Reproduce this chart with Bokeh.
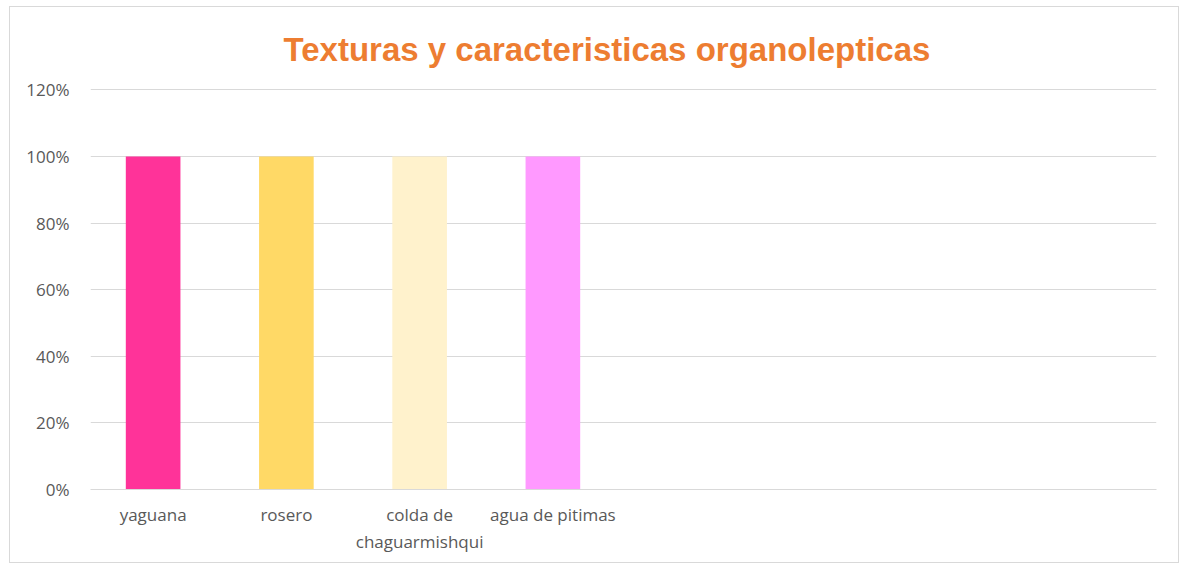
from bokeh.plotting import figure
from bokeh.models import FixedTicker, NumeralTickFormatter, Range1d, Title, ColumnDataSource
from bokeh.embed import file_html
from bokeh.resources import INLINE

categories = ["yaguana", "rosero", "colda de\nchaguarmishqui", "agua de pitimas"]
values = [1.0, 1.0, 1.0, 1.0]
colors = ["#FF3399", "#FFD966", "#FFF2CC", "#FF99FF"]
n_slots = 8
y_ticks = [0, 0.2, 0.4, 0.6, 0.8, 1.0, 1.2]

xs = [i + 0.5 for i in range(len(categories))]
src = ColumnDataSource(dict(x=xs, top=values, color=colors, name=categories))

p = figure(width=1170, height=557, output_backend="svg", toolbar_location=None,
           x_range=Range1d(0.03, n_slots + 0.03), y_range=Range1d(0, 1.204),
           min_border_left=80, min_border_right=24, min_border_bottom=75, min_border_top=80)

p.vbar(x="x", top="top", width=0.41, color="color", source=src, line_color=None)

t = Title(text="Texturas y caracteristicas organolepticas", align="left",
          text_font="Liberation Sans", text_font_size="33px", text_font_style="bold",
          text_color="#ED7D31", offset=193, standoff=42)
p.add_layout(t, "above")

p.xaxis.ticker = FixedTicker(ticks=xs)
p.xaxis.major_label_overrides = {x: c for x, c in zip(xs, categories)}
p.xaxis.major_label_text_font = "Open Sans"
p.xaxis.major_label_text_font_size = "17px"
p.xaxis.major_label_text_color = "#595959"
p.xaxis.major_label_standoff = 7
p.xaxis.major_tick_line_color = None
p.xaxis.minor_tick_line_color = None
p.xaxis.axis_line_color = "#D9D9D9"

p.yaxis.ticker = FixedTicker(ticks=y_ticks)
p.yaxis.formatter = NumeralTickFormatter(format="0%")
p.yaxis.major_label_text_font = "Open Sans"
p.yaxis.major_label_text_font_size = "17px"
p.yaxis.major_label_text_color = "#595959"
p.yaxis.major_label_standoff = 15
p.yaxis.major_tick_line_color = None
p.yaxis.minor_tick_line_color = None
p.yaxis.axis_line_color = None

p.xgrid.grid_line_color = None
p.ygrid.grid_line_color = "#D9D9D9"
p.ygrid.ticker = FixedTicker(ticks=y_ticks)
p.outline_line_color = None
p.styles = {"border": "1px solid #D9D9D9", "margin": "6px 0 0 9px"}

open("out.html", "w").write(file_html(p, INLINE))
